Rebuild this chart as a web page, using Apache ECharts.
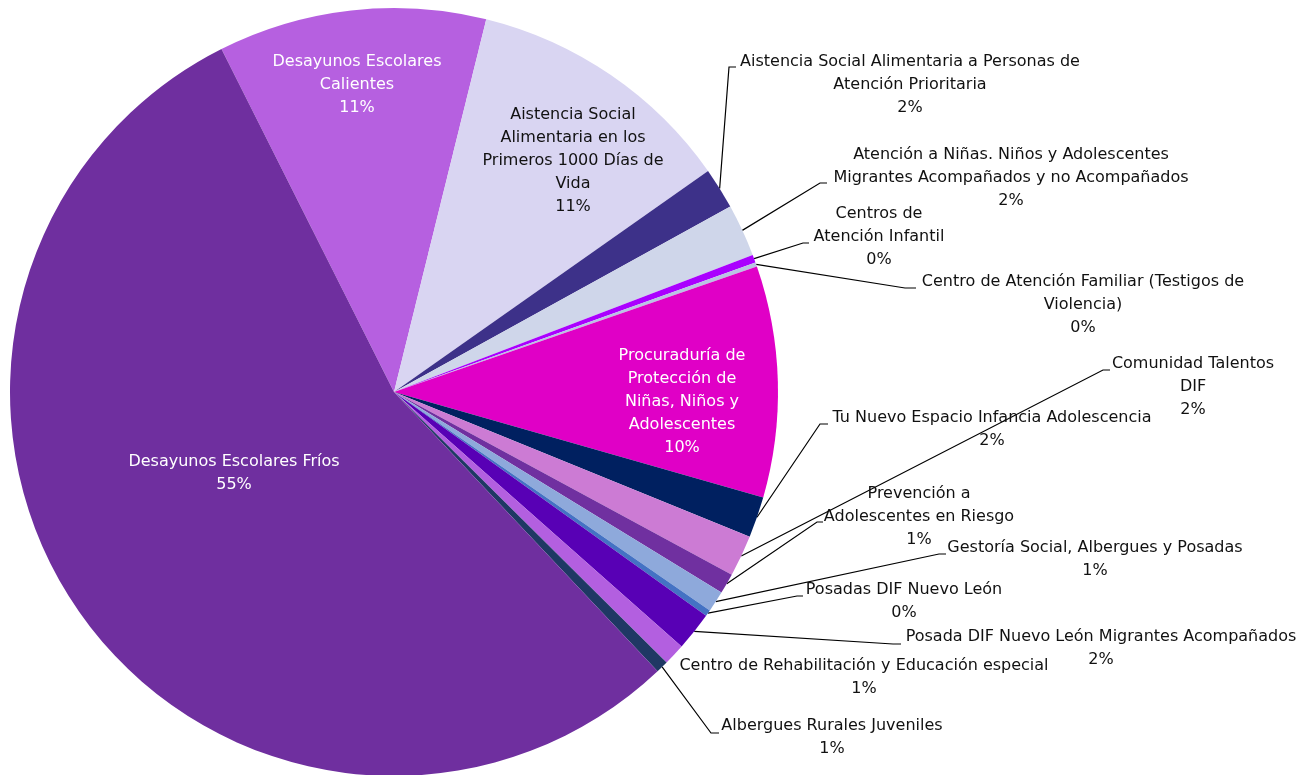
<!DOCTYPE html>
<html>
<head>
<meta charset="utf-8">
<script src="https://cdn.jsdelivr.net/npm/echarts@6/dist/echarts.min.js"></script>
<style>
html, body { margin: 0; padding: 0; background: #fff; }
#chart { width: 1310px; height: 775px; }
</style>
</head>
<body>
<div id="chart"></div>
<script>
var categories = [
    'Desayunos Escolares\nCalientes',
    'Aistencia Social\nAlimentaria en los\nPrimeros 1000 Días de\nVida',
    'Aistencia Social Alimentaria a Personas de\nAtención Prioritaria',
    'Atención a Niñas. Niños y Adolescentes\nMigrantes Acompañados y no Acompañados',
    'Centros de\nAtención Infantil',
    'Centro de Atención Familiar (Testigos de\nViolencia)',
    'Procuraduría de\nProtección de\nNiñas, Niños y\nAdolescentes',
    'Tu Nuevo Espacio Infancia Adolescencia',
    'Comunidad Talentos\nDIF',
    'Prevención a\nAdolescentes en Riesgo',
    'Gestoría Social, Albergues y Posadas',
    'Posadas DIF Nuevo León',
    'Posada DIF Nuevo León Migrantes Acompañados',
    'Centro de Rehabilitación y Educación especial',
    'Albergues Rurales Juveniles',
    'Desayunos Escolares Fríos'
];
// share of the total
var values = [11.28, 11.38, 1.74, 2.21, 0.33, 0.18, 9.73, 1.72, 1.74, 0.86, 0.88, 0.27, 1.63, 0.91, 0.52, 54.63];

var colors = [
    '#B660E0', '#D9D5F2', '#3D3189', '#CFD6EA', '#AA00FF', '#B9C3E3', '#E000C6', '#002060',
    '#CC7BD4', '#7030A0', '#8EA9DB', '#4472C4', '#5800B5', '#B35FE0', '#1F3864', '#6F2F9F'
];
// labels drawn on the slice (text colour), null = outside
var insideColor = ['#fff', '#111', null, null, null, null, '#fff', null, null, null, null, null, null, null, null, '#fff'];

// label placement: text centre x, first line centre y
var labelAt = [
    [357, 62], [573, 115], [910, 62], [1011, 155], [879, 214], [1083, 282], [682, 356], [992, 418],
    [1193, 364], [919, 494], [1095, 548], [904, 590], [1101, 637], [864, 666], [832, 726], [234, 462]
];
// leader line elbow: x, y, end x (null = no line)
var elbow = [
    null, null, [729, 67, 736], [820, 183, 827], [803, 243, 809], [905, 288, 916], null, [820, 424, 828],
    [1103, 370, 1110], [817, 522, 823], [939, 554, 946], [797, 596, 803], [893, 644, 901], null, [711, 733, 719], null
];

var total = values.reduce(function (a, b) { return a + b; }, 0);

var data = categories.map(function (name, i) {
    var item = { name: name, value: values[i], itemStyle: { color: colors[i] } };
    if (insideColor[i]) {
        item.label = { position: 'inside', color: insideColor[i] };
        item.labelLine = { show: false };
    } else if (!elbow[i]) {
        item.labelLine = { show: false };
    }
    return item;
});

var chart = echarts.init(document.getElementById('chart'));
chart.setOption({
    animation: false,
    series: [{
        type: 'pie',
        center: [394, 392],
        radius: 384,
        startAngle: 116.7,
        clockwise: true,
        avoidLabelOverlap: false,
        itemStyle: { borderWidth: 0 },
        emphasis: { disabled: true },
        label: {
            show: true,
            fontFamily: 'DejaVu Sans',
            fontSize: 16,
            lineHeight: 23,
            color: '#111',
            formatter: function (p) {
                return p.name + '\n' + Math.round(p.value / total * 100) + '%';
            }
        },
        labelLine: {
            show: true,
            length: 10,
            length2: 10,
            lineStyle: { color: '#000', width: 1.2 }
        },
        labelLayout: function (p) {
            var i = p.dataIndex;
            var pos = labelAt[i];
            var out = { x: pos[0], y: pos[1] - 11.5, align: 'center', verticalAlign: 'top' };
            var e = elbow[i];
            if (e && p.labelLinePoints) {
                out.labelLinePoints = [p.labelLinePoints[0], [e[0], e[1]], [e[2], e[1]]];
            }
            return out;
        },
        data: data
    }]
});
</script>
</body>
</html>
